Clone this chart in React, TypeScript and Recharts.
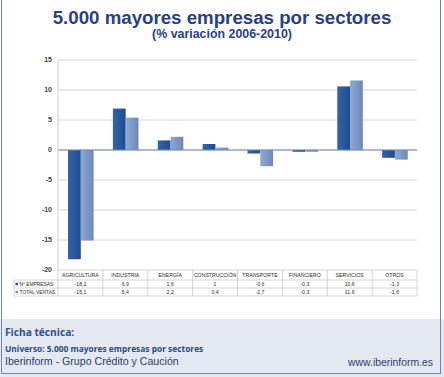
import React from 'react';
import { BarChart, Bar, XAxis, YAxis, CartesianGrid, ReferenceLine } from 'recharts';

const categories = ['AGRICULTURA', 'INDUSTRIA', 'ENERGÍA', 'CONSTRUCCIÓN', 'TRANSPORTE', 'FINANCIERO', 'SERVICIOS', 'OTROS'];
const empresas = [-18.2, 6.9, 1.6, 1, -0.6, -0.3, 10.6, -1.3];
const ventas = [-15.1, 5.4, 2.2, 0.4, -2.7, -0.3, 11.6, -1.6];
const yTicks = [-20, -15, -10, -5, 0, 5, 10, 15];
const seriesNames = ['Nº EMPRESAS', 'TOTAL VENTAS'];

const data = categories.map((c, i) => ({ cat: c, empresas: empresas[i], ventas: ventas[i] }));

const W = 444;
const H = 377;
const MARGIN = { top: 60, right: 27, left: 0, bottom: 77 };
const Y_W = 58;
const BAND = (W - MARGIN.left - Y_W - MARGIN.right) / categories.length;

const DARK = '#285aa3';
const LIGHT = '#8199c8';
const GRID = '#d6d6d6';
const TBL = '#c9c9c9';

const fmt = (v: number) => String(v).replace('.', ',');

const TableTick = (props: any) => {
  const { x, y, payload } = props;
  const idx = props.index ?? payload.index;
  const l = x - BAND / 2;
  const r = x + BAND / 2;
  const r1 = y + 10;
  const r2 = y + 18;
  const r3 = y + 26;
  const font = { fontFamily: 'Liberation Sans, Arial, sans-serif', fontSize: 5.2, fill: '#2a2a2a' };
  return (
    <g>
      {idx === 0 && (
        <g>
          <line x1={l} y1={y} x2={l} y2={r3} stroke={TBL} strokeWidth={0.8} />
          <line x1={14} y1={r1} x2={l} y2={r1} stroke={TBL} strokeWidth={0.8} />
          <line x1={14} y1={r2} x2={l} y2={r2} stroke={TBL} strokeWidth={0.8} />
          <line x1={14} y1={r3} x2={l} y2={r3} stroke={TBL} strokeWidth={0.8} />
          <line x1={14} y1={r1} x2={14} y2={r3} stroke={TBL} strokeWidth={0.8} />
          <rect x={15.5} y={r1 + 2.7} width={2.6} height={2.6} fill={DARK} />
          <rect x={15.5} y={r2 + 2.7} width={2.6} height={2.6} fill={LIGHT} />
          <text x={19.5} y={r1 + 5.7} {...font} fontSize={4.9}>{seriesNames[0]}</text>
          <text x={19.5} y={r2 + 5.7} {...font} fontSize={4.9}>{seriesNames[1]}</text>
        </g>
      )}
      <line x1={r} y1={y} x2={r} y2={r3} stroke={TBL} strokeWidth={0.8} />
      <line x1={l} y1={r1} x2={r} y2={r1} stroke={TBL} strokeWidth={0.8} />
      <line x1={l} y1={r2} x2={r} y2={r2} stroke={TBL} strokeWidth={0.8} />
      <line x1={l} y1={r3} x2={r} y2={r3} stroke={TBL} strokeWidth={0.8} />
      <text x={x} y={y + 6.9} textAnchor="middle" {...font}>{payload.value}</text>
      <text x={x} y={r1 + 5.7} textAnchor="middle" {...font}>{fmt(empresas[idx])}</text>
      <text x={x} y={r2 + 5.7} textAnchor="middle" {...font}>{fmt(ventas[idx])}</text>
    </g>
  );
};

export default function App() {
  return (
    <div style={{ position: 'absolute', left: 0, top: 0, width: W, height: H, background: '#ffffff', overflow: 'hidden' }}>
      <div style={{ position: 'absolute', left: 0, top: 319, width: W, height: 58, background: '#e3e8f1' }} />
      <div style={{ position: 'absolute', left: 1, top: -2, width: 440, height: 376, border: '1.5px solid #6d88ad', boxSizing: 'border-box' }} />
      <div style={{ position: 'absolute', left: 0, top: 0 }}>
        <BarChart width={W} height={H} data={data} margin={MARGIN} barGap={0} barSize={12.8}>
          <defs>
            <linearGradient id="gDark" x1="0" y1="0" x2="1" y2="0">
              <stop offset="0%" stopColor="#3064ac" />
              <stop offset="100%" stopColor="#204b8c" />
            </linearGradient>
            <linearGradient id="gLight" x1="0" y1="0" x2="1" y2="0">
              <stop offset="0%" stopColor="#90a8d5" />
              <stop offset="100%" stopColor="#6f87b8" />
            </linearGradient>
          </defs>
          <CartesianGrid vertical={false} stroke={GRID} strokeWidth={1} />
          <XAxis
            dataKey="cat"
            axisLine={false}
            tickLine={false}
            tickSize={0}
            tickMargin={0}
            height={30}
            interval={0}
            tick={<TableTick />}
          />
          <YAxis
            width={Y_W}
            domain={[-20, 15]}
            ticks={yTicks}
            interval={0}
            axisLine={{ stroke: '#cfcfcf' }}
            tickLine={false}
            tickSize={4}
            tickMargin={2}
            tick={{ fontFamily: 'Liberation Sans, Arial, sans-serif', fontSize: 7, fontWeight: 'bold', fill: '#404040' }}
          />
          <Bar dataKey="empresas" name={seriesNames[0]} fill="url(#gDark)" isAnimationActive={false} />
          <Bar dataKey="ventas" name={seriesNames[1]} fill="url(#gLight)" isAnimationActive={false} />
          <ReferenceLine y={0} stroke="#7088b5" strokeWidth={1} />
        </BarChart>
      </div>
      <div style={{ position: 'absolute', left: 0, top: 0, width: W, textAlign: 'center', fontFamily: 'Liberation Sans, Arial, sans-serif', fontWeight: 'bold', color: '#27408b' }}>
        <div style={{ position: 'absolute', left: 0, width: W, top: 8, fontSize: 18.7, lineHeight: '20px' }}>5.000 mayores empresas por sectores</div>
        <div style={{ position: 'absolute', left: 0, width: W, top: 28, fontSize: 12.4, lineHeight: '13px' }}>(% variación 2006-2010)</div>
      </div>
      <div style={{ position: 'absolute', left: 5, top: 326, fontFamily: 'Open Sans, sans-serif', fontWeight: 'bold', fontSize: 10.2, color: '#30528a', lineHeight: '13px', whiteSpace: 'nowrap' }}>Ficha técnica:</div>
      <div style={{ position: 'absolute', left: 5, top: 343, fontFamily: 'Open Sans, sans-serif', fontWeight: 'bold', fontSize: 8.4, color: '#2c4a80', lineHeight: '11px', whiteSpace: 'nowrap' }}>Universo: 5.000 mayores empresas por sectores</div>
      <div style={{ position: 'absolute', left: 5, top: 355, fontFamily: 'Liberation Sans, Arial, sans-serif', fontSize: 10.6, color: '#2b3f6f', lineHeight: '12px', whiteSpace: 'nowrap' }}>Iberinform - Grupo Crédito y Caución</div>
      <div style={{ position: 'absolute', right: 11, top: 357, fontFamily: 'Liberation Sans, Arial, sans-serif', fontSize: 10.4, color: '#2b3f6f', lineHeight: '12px', whiteSpace: 'nowrap' }}>www.iberinform.es</div>
    </div>
  );
}
